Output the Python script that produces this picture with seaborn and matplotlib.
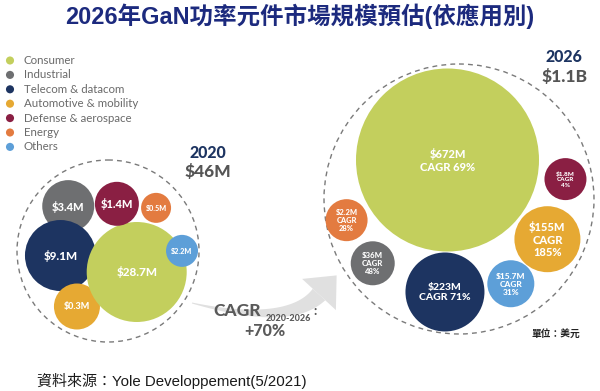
import matplotlib

matplotlib.use("Agg")
import matplotlib.pyplot as plt
import numpy as np
import pandas as pd
import seaborn as sns
from matplotlib.patches import Circle, Polygon

# --- data -------------------------------------------------------------
segments = [
    "Consumer",
    "Industrial",
    "Telecom & datacom",
    "Automotive & mobility",
    "Defense & aerospace",
    "Energy",
    "Others",
]
value_2020 = [28.7, 3.4, 9.1, 0.3, 1.4, 0.5, 2.2]      # $M
value_2026 = [672, 36, 223, 155, 1.8, 2.2, 15.7]       # $M
cagr_2026 = [69, 48, 71, 185, 4, 28, 31]               # %
total_2020 = "$46M"
total_2026 = "$1.1B"
cagr_total = "+70%"

colors = ["#c3cf5d", "#6e6f71", "#1d3461", "#e6a933", "#8a1f43", "#e37b40", "#5d9fd8"]
palette = dict(zip(segments, colors))

# --- layout (pixels on a 600x391 canvas) ------------------------------
# bubbles sit around the Consumer hub: angle (deg, y down) and gap to the hub edge
radius_2020 = [50, 26, 35.5, 23, 22, 15, 16]
angle_2020 = [0, -136.1, -167.8, 150.0, -106.2, -73.2, -25.0]
gap_2020 = [0, 19, -7.5, -4, -1, 2, -16]
fs_2020 = [8.5, 8, 8.5, 6.5, 8, 5.2, 5.2]
draw_order_2020 = [1, 2, 3, 0, 4, 5, 6]
hub_2020 = (136.7, 272)
ring_2020 = (108, 251, 91)

radius_2026 = [91.5, 22, 39.5, 33, 21, 21, 23.5]
angle_2026 = [0, 125.9, 91.1, 38.4, 9.2, 149.2, 62.9]
gap_2026 = [0, 14, 1, 3, 7, 5, 24]
fs_2026 = [8, 5.6, 7.5, 8, 4.6, 5.4, 6]
hub_2026 = (447.5, 160)
ring_2026 = (459, 199, 135)

PX_TO_PT = 72.0 / 100.0


def place(hub, radius, angle, gap):
    xs, ys = [], []
    r0 = radius[0]
    for r, a, g in zip(radius, angle, gap):
        if r == r0 and g == 0:
            xs.append(hub[0])
            ys.append(hub[1])
            continue
        d = r0 + r + g
        xs.append(hub[0] + d * np.cos(np.radians(a)))
        ys.append(hub[1] + d * np.sin(np.radians(a)))
    return np.array(xs), np.array(ys)


def bubbles(ax, xs, ys, radius, order):
    df = pd.DataFrame({
        "x": xs, "y": ys, "segment": segments,
        "area": (2 * np.asarray(radius) * PX_TO_PT) ** 2,
    }).iloc[order]
    lo, hi = df["area"].min(), df["area"].max()
    sns.scatterplot(data=df, x="x", y="y", hue="segment", palette=palette,
                    size="area", sizes=(lo, hi), size_norm=(lo, hi),
                    linewidth=0, alpha=1, legend=False, ax=ax, zorder=3)


sns.set_theme(style="white")
fig = plt.figure(figsize=(6, 3.91), dpi=100, facecolor="white")
ax = fig.add_axes([0, 0, 1, 1])
ax.set_xlim(0, 600)
ax.set_ylim(391, 0)
ax.axis("off")

cjk = ["Liberation Sans", "Noto Sans CJK TC"]
gill = ["Lato", "DejaVu Sans"]

# title
ax.text(300, 16, "2026年GaN功率元件市場規模預估(依應用別)", ha="center", va="center",
        fontsize=16.9, fontweight="bold", color="#1c2a7e", family=cjk)

# legend dots + labels
leg = pd.DataFrame({"segment": segments, "x": 10.0,
                    "y": 60.5 + 14.4 * np.arange(len(segments))})
sns.scatterplot(data=leg, x="x", y="y", hue="segment", palette=palette, s=34,
                linewidth=0, legend=False, ax=ax)
for seg, yy in zip(segments, leg["y"]):
    ax.text(24, yy, seg, ha="left", va="center", fontsize=8.3, color="#6a6a6a", family=gill)

# dashed rings
for cx, cy, r in (ring_2020, ring_2026):
    ax.add_patch(Circle((cx, cy), r, fill=False, ls=(0, (3.5, 3)), lw=1.0,
                        ec="#7a7a7a", zorder=1))

# 2020 group
x20, y20 = place(hub_2020, radius_2020, angle_2020, gap_2020)
bubbles(ax, x20, y20, radius_2020, draw_order_2020)
for v, x, y, fs in zip(value_2020, x20, y20, fs_2020):
    ax.text(x, y + 0.5, f"${v:g}M", ha="center", va="center", fontsize=fs,
            fontweight="black", color="white", family=gill, zorder=4)
ax.text(208, 153, "2020", ha="center", va="center", fontsize=11.5,
        fontweight="black", color="#1d3461", family=gill)
ax.text(208, 172, total_2020, ha="center", va="center", fontsize=12.5,
        fontweight="black", color="#555555", family=gill)

# 2026 group
x26, y26 = place(hub_2026, radius_2026, angle_2026, gap_2026)
bubbles(ax, x26, y26, radius_2026, list(range(len(segments))))
for v, c, r, x, y, fs in zip(value_2026, cagr_2026, radius_2026, x26, y26, fs_2026):
    sep = "\n" if r < 38 else " "
    ax.text(x, y + 0.5, f"${v:g}M\nCAGR{sep}{c}%", ha="center", va="center",
            fontsize=fs, fontweight="black", color="white", family=gill,
            linespacing=1.15, zorder=4)
ax.text(564, 57, "2026", ha="center", va="center", fontsize=11.5,
        fontweight="black", color="#1d3461", family=gill)
ax.text(565, 77, total_2026, ha="center", va="center", fontsize=12.5,
        fontweight="black", color="#555555", family=gill)

# growth arrow (decorative): tapering quadratic bezier body plus a triangular head
t = np.linspace(0, 1, 60)[:, None]
p0, p1, p2 = np.array([192, 303]), np.array([289, 327]), np.array([319, 294.5])
centre = (1 - t) ** 2 * p0 + 2 * (1 - t) * t * p1 + t ** 2 * p2
tang = 2 * (1 - t) * (p1 - p0) + 2 * t * (p2 - p1)
tang /= np.linalg.norm(tang, axis=1, keepdims=True)
norm = np.column_stack([-tang[:, 1], tang[:, 0]])
half = 0.5 + 8.0 * t
body = np.vstack([centre + norm * half, (centre - norm * half)[::-1]])
ax.add_patch(Polygon(body, closed=True, fc="#e0e0e0", ec="none", zorder=0))
d = tang[-1]
n = norm[-1]
head = np.array([p2 + n * 23, p2 + d * 26, p2 - n * 23])
ax.add_patch(Polygon(head, closed=True, fc="#e0e0e0", ec="none", zorder=0))

ax.text(237.5, 311, "CAGR", ha="center", va="center", fontsize=12.5,
        fontweight="black", color="#5a5a5a", family=gill, zorder=5)
ax.text(288, 318.5, "2020-2026", ha="center", va="center", fontsize=6.5,
        fontweight="black", color="#5a5a5a", family=gill, zorder=5)
ax.text(315, 311, ":", ha="center", va="center", fontsize=9,
        fontweight="black", color="#5a5a5a", family=gill, zorder=5)
ax.text(264.5, 331, cagr_total, ha="center", va="center", fontsize=11.5,
        fontweight="black", color="#5a5a5a", family=gill, zorder=5)

# unit + source
ax.text(580, 334, "單位：美元", ha="right", va="center", fontsize=7,
        fontweight="bold", color="#222222", family=cjk)
ax.text(37, 381, "資料來源：Yole Developpement(5/2021)", ha="left", va="center",
        fontsize=10.8, color="#1a1a1a", family=cjk)

fig.savefig("out.png", dpi=100, facecolor="white")
plt.close(fig)
